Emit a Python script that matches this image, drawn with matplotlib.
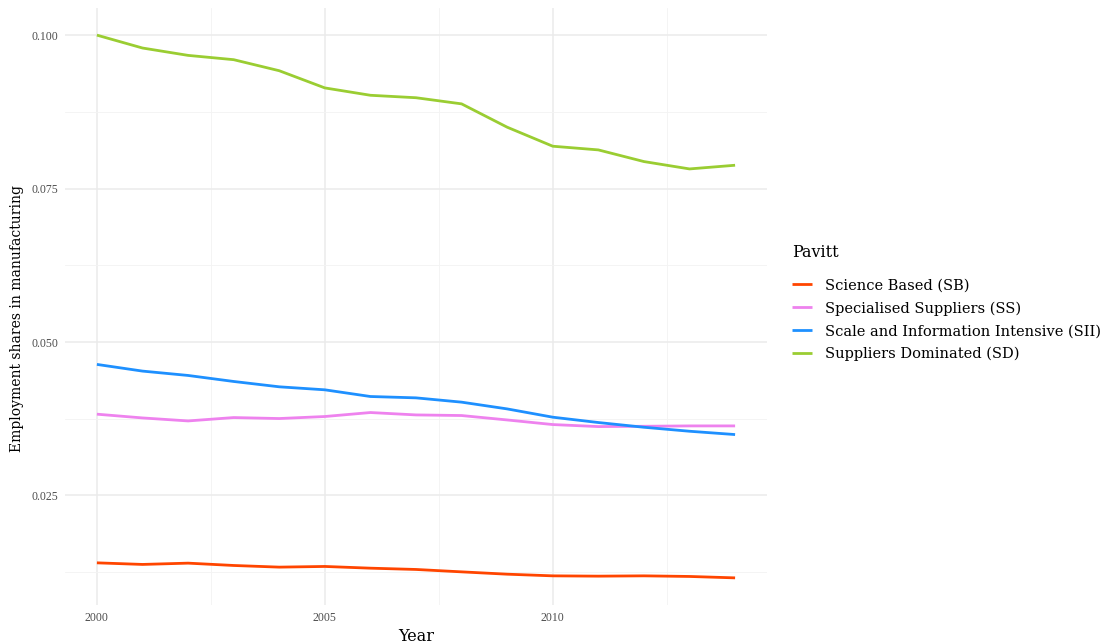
import matplotlib
matplotlib.use('Agg')
import matplotlib.pyplot as plt
from matplotlib.ticker import MultipleLocator

plt.rcParams['font.family'] = ['DejaVu Serif']

years = list(range(2000, 2015))
sb = [0.01402, 0.01376, 0.01397, 0.01359, 0.01332, 0.01343, 0.01315, 0.01294,
      0.01255, 0.01217, 0.01190, 0.01185, 0.01190, 0.01180, 0.01157]
ss = [0.03824, 0.03763, 0.03714, 0.03769, 0.03753, 0.03786, 0.03851, 0.03812,
      0.03802, 0.03730, 0.03655, 0.03622, 0.03627, 0.03633, 0.03633]
sii = [0.04635, 0.04526, 0.04455, 0.04357, 0.04270, 0.04221, 0.04112, 0.04090,
       0.04020, 0.03910, 0.03775, 0.03688, 0.03611, 0.03546, 0.03492]
sd = [0.1000, 0.0979, 0.0967, 0.0960, 0.0942, 0.0914, 0.0902, 0.0898,
      0.0888, 0.0850, 0.0819, 0.0813, 0.0794, 0.0782, 0.0788]

labels = ['Science Based (SB)', 'Specialised Suppliers (SS)',
          'Scale and Information Intensive (SII)', 'Suppliers Dominated (SD)']
colors = ['#FF4500', '#EE82EE', '#1E90FF', '#9ACD32']

fig = plt.figure(figsize=(11.09, 6.44), dpi=100)
ax = fig.add_axes([65/1109, 1-605/644, (767-65)/1109, (605-8)/644])

for vals, lab, c in zip([sb, ss, sii, sd], labels, colors):
    ax.plot(years, vals, color=c, lw=2, label=lab, solid_capstyle='butt')

ax.set_xlim(1999.3, 2014.7)
ax.set_ylim(0.00715, 0.10442)
ax.set_xticks([2000, 2005, 2010])
ax.set_yticks([0.025, 0.050, 0.075, 0.100])
ax.set_yticklabels(['0.025', '0.050', '0.075', '0.100'])
ax.xaxis.set_minor_locator(MultipleLocator(2.5))
ax.yaxis.set_minor_locator(MultipleLocator(0.0125))
ax.grid(which='major', color='#EBEBEB', lw=1.1)
ax.grid(which='minor', color='#F3F3F3', lw=0.6)
ax.set_axisbelow(True)
for s in ax.spines.values():
    s.set_visible(False)
ax.tick_params(which='both', length=0, labelsize=8.5, labelcolor='#4D4D4D', pad=5)
for t in ax.get_xticklabels() + ax.get_yticklabels():
    t.set_family('Liberation Serif')
ax.set_xlabel('Year', fontsize=11.5, labelpad=3)
ax.set_ylabel('Employment shares in manufacturing', fontsize=10)
ax.yaxis.set_label_coords(-0.058, 0.48)

leg = ax.legend(loc='upper left', bbox_to_anchor=(792/1109, 1-244/644),
                bbox_transform=fig.transFigure, frameon=False, title='Pavitt',
                fontsize=10.5, title_fontsize=11.5, handlelength=1.4,
                handletextpad=0.85, labelspacing=0.6, borderaxespad=0,
                borderpad=0)
leg._legend_box.align = 'left'
leg._legend_box.sep = 12.5

fig.savefig('out.png', dpi=100)
